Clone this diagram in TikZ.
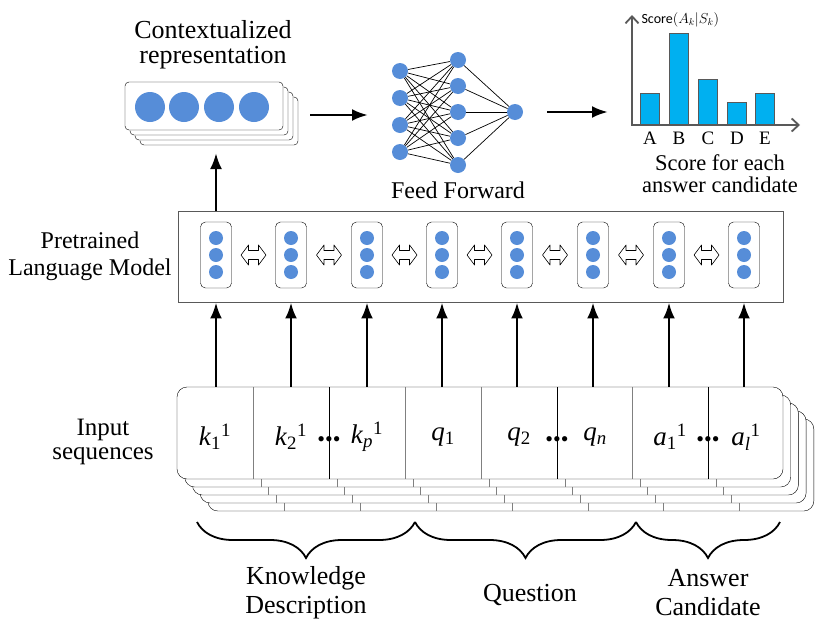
\documentclass[tikz,border=0pt]{standalone}
\usepackage{fontspec}
\setmainfont{Liberation Serif}
\newfontfamily\calfont{Carlito}
\usetikzlibrary{arrows.meta,decorations.pathreplacing,positioning}
\definecolor{dotblue}{RGB}{86,141,216}
\definecolor{barblue}{RGB}{0,176,240}
\definecolor{axisgray}{RGB}{89,89,89}
\newcommand\txtsize[2]{\fontsize{#1}{#2}\selectfont}

\begin{document}
\begin{tikzpicture}[x=1pt,y=-1pt,
    dot/.style={circle,fill=dotblue,inner sep=0pt,minimum size=#1},
    tok/.style={draw,rounded corners=5pt,inner sep=0pt,minimum width=31pt,minimum height=66pt},
    thick arrow/.style={-{Latex[length=16pt,width=12pt]},line width=2.8pt},
    brace/.style={decorate,decoration={brace,mirror,amplitude=36pt},line width=1.8pt}]
  \useasboundingbox (0,0) rectangle (831,635);

  \node[align=center,font=\txtsize{26}{25}] (ctxlab) at (213,45) {Contextualized\\representation};
  \foreach \k in {3,2,1} \draw[fill=white,rounded corners=4pt] (125+5*\k,82+5*\k) rectangle ++(158,48);
  \node[draw,fill=white,rounded corners=4pt,minimum width=158pt,minimum height=48pt] (rep) at (204,106) {};
  \foreach \x [count=\n] in {150,184,219,254} \node[dot=30pt] (r\n) at (\x,107) {};

  \foreach \y [count=\n] in {71,98,125,152} \node[dot=16pt] (i\n) at (400,\y) {};
  \foreach \y [count=\n] in {60,86,112,138,165} \node[dot=16pt] (h\n) at (458,\y) {};
  \node[dot=16pt] (out) at (515,112) {};
  \foreach \a in {1,...,4} \foreach \b in {1,...,5} \draw[line width=0.7pt] (i\a) -- (h\b);
  \foreach \b in {1,...,5} \draw[line width=0.7pt] (h\b) -- (out);
  \node[font=\txtsize{24}{24}] (fflab) at (458,190) {Feed Forward};

  \coordinate (repout) at (310,115);
  \coordinate (ffin) at (368,115);
  \coordinate (ffout) at (547,112);
  \coordinate (chartin) at (608,112);
  \draw[thick arrow] (repout) -- (ffin);
  \draw[thick arrow] (ffout) -- (chartin);

  \foreach \x/\h/\l in {650/93/A,679/33/B,708/79/C,737/102/D,765/93/E} {
    \draw[axisgray,fill=barblue,line width=0.8pt] (\x-9.5,125) rectangle (\x+9.5,\h);
    \node[font=\txtsize{19}{19}] (bar\l) at (\x,138) {\l};
  }
  \draw[axisgray,line width=1.8pt,{Straight Barb[length=7pt,width=13pt]}-{Straight Barb[length=7pt,width=13pt]}] (632,15) -- (632,125) -- (800,125);
  \node[anchor=west,font=\txtsize{14}{14}] (scorelab) at (638,20) {\calfont Score$(A_k|S_k)$};
  \node[align=center,font=\txtsize{22.5}{22}] (scorecap) at (720,174) {Score for each\\answer candidate};

  \node[draw=axisgray,line width=0.9pt,inner sep=0pt,minimum width=605pt,minimum height=91pt] (plm) at (480.5,256.5) {};
  \foreach \x [count=\n] in {216,291,367,442,517,593,669,744} {
    \node[tok] (c\n) at (\x,255) {};
    \foreach \y [count=\m] in {238,255,272} \node[dot=14pt] (c\n-\m) at (\x,\y) {};
  }
  \foreach \n [count=\m from 2] in {1,...,7} {
    \path (c\n) -- (c\m) coordinate[midway] (lk\n);
    \draw[fill=white,line width=0.6pt,line join=round] (lk\n) ++(-12.5,0) -- ++(7.5,-10) -- ++(0,5.5) -- ++(10,0) -- ++(0,-5.5)
      -- ++(7.5,10) -- ++(-7.5,10) -- ++(0,-5.5) -- ++(-10,0) -- ++(0,5.5) -- cycle;
  }
  \node[align=center,font=\txtsize{24}{27}] (plmlab) at (90,256) {Pretrained\\Language Model};
  \draw[thick arrow] (c1 |- plm.north) -- (216,153);

  \foreach \k in {4,3,2,1} {
    \begin{scope}[shift={(7.7*\k,8*\k)}]
      \draw[fill=white,rounded corners=10pt] (177,387) rectangle (783,479);
      \foreach \x in {253,329,405,481,557,632,708} \draw[gray] (\x,387) -- (\x,479);
    \end{scope}
  }
  \node[draw,fill=white,rounded corners=10pt,inner sep=0pt,minimum width=606pt,minimum height=92pt] (seq) at (480,433) {};
  \foreach \x/\c in {253/gray,329/black,405/gray,481/gray,557/black,632/gray,708/black} \draw[\c] (\x,387) -- (\x,479);
  \foreach \x/\t [count=\n] in {215/{\textit{k}\textsubscript{1}\textsuperscript{1}},291/{\textit{k}\textsubscript{2}\textsuperscript{1}},
      367/{\textit{k}\textsubscript{\textit{p}}\textsuperscript{1}},443/{\textit{q}\textsubscript{1}},519/{\textit{q}\textsubscript{2}},
      595/{\textit{q}\textsubscript{\textit{n}}},670/{\textit{a}\textsubscript{1}\textsuperscript{1}},746/{\textit{a}\textsubscript{\textit{l}}\textsuperscript{1}}}
    \node[font=\txtsize{27}{27}] (t\n) at (\x,437) {\t};
  \foreach \x [count=\n] in {329,557,708} \node[font=\txtsize{22}{22},inner sep=0pt] (gap\n) at (\x,442) {\textbullet\textbullet\textbullet};
  \node[align=center,font=\txtsize{25}{24}] (seqlab) at (103,442) {Input\\sequences};
  \foreach \n in {1,...,8} \draw[thick arrow] (c\n |- seq.north) -- (c\n |- plm.south);

  \coordinate (br0) at (197,522);
  \coordinate (br1) at (415,522);
  \coordinate (br2) at (636,522);
  \coordinate (br3) at (780,522);
  \draw[brace] (br0) -- (br1);
  \draw[brace] (br1) -- (br2);
  \draw[brace] (br2) -- (br3);
  \node[align=center,font=\txtsize{26}{29}] (kdlab) at (306,593) {Knowledge\\Description};
  \node[font=\txtsize{26}{26}] (qlab) at (530,595) {Question};
  \node[align=center,font=\txtsize{26}{29}] (aclab) at (708,593) {Answer\\Candidate};
\end{tikzpicture}
\end{document}
